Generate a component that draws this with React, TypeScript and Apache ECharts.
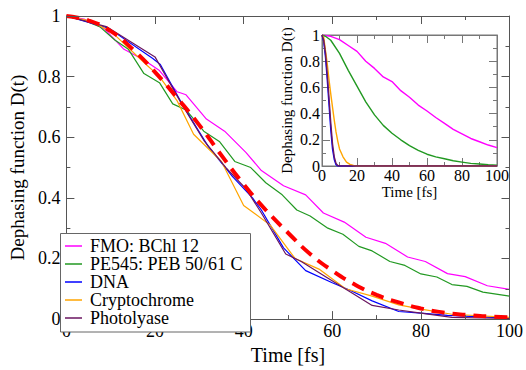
import React, { useEffect, useRef } from "react";
import * as echarts from "echarts";

// ---------- Main panel data ----------
const FMO_T = [0, 4, 8.7, 13, 17.5, 21, 25, 27, 31.6, 35.7, 40.5, 44, 49, 54, 58, 62.7, 67.6, 72, 77, 81, 86, 90, 95, 100];
const FMO_D = [1, 0.99, 0.956, 0.89, 0.855, 0.82, 0.75, 0.74, 0.66, 0.62, 0.55, 0.49, 0.44, 0.41, 0.35, 0.32, 0.27, 0.25, 0.205, 0.19, 0.15, 0.14, 0.11, 0.098];

const PE_T = [0, 4, 7.5, 11, 14, 17.5, 21, 24, 27, 31, 34.6, 38, 41.6, 45, 48.7, 52, 55, 59, 62.4, 66, 69, 73, 76.4, 80, 83.6, 87, 90.4, 94, 100];
const PE_D = [1, 0.985, 0.965, 0.92, 0.89, 0.81, 0.78, 0.71, 0.69, 0.62, 0.585, 0.52, 0.5, 0.45, 0.41, 0.36, 0.34, 0.3, 0.28, 0.24, 0.225, 0.19, 0.177, 0.149, 0.139, 0.114, 0.108, 0.089, 0.076];

const DNA_T = [0, 9.5, 19.5, 21.2, 26.5, 32, 37.5, 42, 44, 49, 54, 60, 64, 69, 75, 80, 86, 100];
const DNA_D = [1, 0.96, 0.86, 0.84, 0.7, 0.57, 0.47, 0.4, 0.36, 0.235, 0.16, 0.12, 0.095, 0.06, 0.025, 0.02, 0.012, 0.003];

const CRY_T = [0, 5, 10, 18, 21, 25, 28.7, 35, 40, 46, 51.6, 57, 63, 69, 75, 80.4, 87, 100];
const CRY_D = [1, 0.985, 0.95, 0.84, 0.8, 0.72, 0.61, 0.52, 0.375, 0.31, 0.2, 0.165, 0.1, 0.076, 0.047, 0.032, 0.016, 0.006];

const PHO_T = [0, 9, 20, 26, 31, 36, 40.5, 44, 49.5, 53, 58.5, 64, 69, 75, 80, 87, 100];
const PHO_D = [1, 0.965, 0.865, 0.71, 0.59, 0.5, 0.43, 0.35, 0.215, 0.19, 0.14, 0.09, 0.045, 0.03, 0.02, 0.006, 0.002];

const FIT_T = [0, 5, 10, 15, 20, 25, 30, 35, 40, 45, 50, 55, 60, 65, 70, 75, 80, 85, 90, 95, 100];
const FIT_D = [1, 0.985, 0.95, 0.89, 0.815, 0.73, 0.64, 0.54, 0.445, 0.36, 0.285, 0.215, 0.16, 0.115, 0.08, 0.055, 0.035, 0.022, 0.014, 0.009, 0.006];

// ---------- Inset data ----------
const IN_FMO_T = [0, 5, 10, 15, 20, 25, 30, 35, 40, 45, 50, 55, 60, 65, 70, 75, 80, 85, 90, 95, 100];
const IN_FMO_D = [1, 0.99, 0.965, 0.92, 0.875, 0.8, 0.745, 0.68, 0.645, 0.575, 0.525, 0.465, 0.42, 0.37, 0.325, 0.28, 0.245, 0.21, 0.185, 0.16, 0.14];

const IN_PE_T = [0, 2, 5, 10, 15, 20, 25, 30, 35, 40, 45, 50, 55, 60, 65, 70, 75, 80, 85, 90, 95, 100];
const IN_PE_D = [1, 0.99, 0.96, 0.86, 0.73, 0.61, 0.49, 0.39, 0.31, 0.25, 0.2, 0.155, 0.12, 0.09, 0.07, 0.055, 0.04, 0.03, 0.02, 0.015, 0.01, 0.007];

const IN_DNA_T = [0, 1, 2, 3, 4, 5, 6, 7, 8, 9, 100];
const IN_DNA_D = [1, 0.95, 0.83, 0.66, 0.47, 0.28, 0.13, 0.05, 0.01, 0, 0];

const IN_CRY_T = [0, 1, 2, 3, 4, 5, 6, 7, 8, 9, 10, 12, 14, 16, 18, 20, 100];
const IN_CRY_D = [1, 0.98, 0.88, 0.78, 0.66, 0.55, 0.45, 0.35, 0.26, 0.19, 0.13, 0.07, 0.03, 0.012, 0.004, 0, 0];

const IN_PHO_T = [0, 1, 2, 3, 4, 5, 6, 7, 8, 9, 10, 100];
const IN_PHO_D = [1, 0.96, 0.86, 0.7, 0.52, 0.33, 0.17, 0.07, 0.02, 0.005, 0, 0];

const NAMES = ["FMO: BChl 12", "PE545: PEB 50/61 C", "DNA", "Cryptochrome", "Photolyase"];
const COLORS = ["#ff00ff", "#229922", "#0000ff", "#ffa500", "#6a1560"];
const X_TICKS = [0, 20, 40, 60, 80, 100];

const zip = (t: number[], d: number[]) => t.map((v, i) => [v, d[i]]);

const FONT = "'Liberation Serif', 'Times New Roman', serif";

export default function App() {
  const ref = useRef<HTMLDivElement>(null);
  useEffect(() => {
    if (!ref.current) return;
    const chart = echarts.init(ref.current, null, { renderer: "svg" });

    const frame = "#555";
    const inFrame = "#777";

    const lbl = (fs: number, margin: number, show = true) => ({
      show,
      fontFamily: FONT,
      fontSize: fs,
      fontWeight: "normal",
      color: "#000",
      margin,
    });

    const mkX = (grid: number, pos: "bottom" | "top", labels: boolean, fs: number, margin: number, color: string, z: number, extra: any = {}) => ({
      type: "value",
      gridIndex: grid,
      position: pos,
      min: X_TICKS[0],
      max: X_TICKS[X_TICKS.length - 1],
      interval: 20,
      z,
      axisLine: { show: true, onZero: false, lineStyle: { color, width: 1 } },
      axisTick: { show: true, inside: true, length: 8, lineStyle: { color } },
      minorTick: { show: true, splitNumber: 2, length: 4, lineStyle: { color } },
      splitLine: { show: false },
      axisLabel: lbl(fs, margin, labels),
      ...extra,
    });
    const mkY = (grid: number, pos: "left" | "right", labels: boolean, fs: number, margin: number, color: string, z: number, extra: any = {}) => ({
      type: "value",
      gridIndex: grid,
      position: pos,
      min: 0,
      max: 1,
      interval: 0.2,
      z,
      axisLine: { show: true, onZero: false, lineStyle: { color, width: 1 } },
      axisTick: { show: true, inside: true, length: 8, lineStyle: { color } },
      minorTick: { show: true, splitNumber: 2, length: 4, lineStyle: { color } },
      splitLine: { show: false },
      axisLabel: lbl(fs, margin, labels),
      ...extra,
    });

    const mainData = [zip(FMO_T, FMO_D), zip(PE_T, PE_D), zip(DNA_T, DNA_D), zip(CRY_T, CRY_D), zip(PHO_T, PHO_D)];
    const inData = [zip(IN_FMO_T, IN_FMO_D), zip(IN_PE_T, IN_PE_D), zip(IN_DNA_T, IN_DNA_D), zip(IN_CRY_T, IN_CRY_D), zip(IN_PHO_T, IN_PHO_D)];

    const series: any[] = [];
    NAMES.forEach((n, i) => {
      series.push({
        name: n,
        type: "line",
        xAxisIndex: 0,
        yAxisIndex: 0,
        data: mainData[i],
        showSymbol: false,
        symbol: "none",
        lineStyle: { color: COLORS[i], width: 1.2 },
        itemStyle: { color: COLORS[i] },
        z: 2,
      });
    });
    series.push({
      name: "fit",
      type: "line",
      xAxisIndex: 0,
      yAxisIndex: 0,
      data: zip(FIT_T, FIT_D),
      showSymbol: false,
      symbol: "none",
      smooth: true,
      lineStyle: { color: "#ff0000", width: 4, type: [13, 8], cap: "butt" },
      itemStyle: { color: "#ff0000" },
      z: 3,
    });
    NAMES.forEach((n, i) => {
      series.push({
        name: n + " (inset)",
        type: "line",
        xAxisIndex: 2,
        yAxisIndex: 2,
        data: inData[i],
        showSymbol: false,
        symbol: "none",
        lineStyle: { color: COLORS[i], width: 1.4 },
        itemStyle: { color: COLORS[i] },
        z: 12,
      });
    });

    const nameStyle = (fs: number) => ({ fontFamily: FONT, fontSize: fs, fontWeight: "normal", color: "#000" });

    chart.setOption({
      animation: false,
      backgroundColor: "#fff",
      textStyle: { fontFamily: FONT, fontWeight: "normal" },
      grid: [
        { left: 61, right: 15, top: 16, bottom: 38, show: false },
        { left: 322, right: 29, top: 35, bottom: 204, show: true, backgroundColor: "#fff", borderColor: inFrame, borderWidth: 1, z: 10 },
      ],
      xAxis: [
        mkX(0, "bottom", true, 18, 3, frame, 5, {
          name: "Time [fs]",
          nameLocation: "middle",
          nameGap: 19,
          nameTextStyle: nameStyle(20),
        }),
        mkX(0, "top", false, 18, 3, frame, 5),
        mkX(1, "bottom", true, 16, 1, inFrame, 11, {
          name: "Time [fs]",
          nameLocation: "middle",
          nameGap: 18,
          nameTextStyle: nameStyle(15),
        }),
        mkX(1, "top", false, 16, 1, inFrame, 11),
      ],
      yAxis: [
        mkY(0, "left", true, 18, 6, frame, 5, {
          name: "Dephasing function D(t)",
          nameLocation: "middle",
          nameGap: 33,
          nameTextStyle: nameStyle(19),
        }),
        mkY(0, "right", false, 18, 6, frame, 5),
        mkY(1, "left", true, 16, 2, inFrame, 11, {
          name: "Dephasing function D(t)",
          nameLocation: "middle",
          nameGap: 28,
          nameTextStyle: nameStyle(15),
        }),
        mkY(1, "right", false, 16, 2, inFrame, 11),
      ],
      graphic: [
        {
          type: "rect",
          z: 6,
          shape: { x: 60.5, y: 233.5, width: 190, height: 98.5 },
          style: { fill: "#fff", stroke: "#666", lineWidth: 1 },
        },
      ],
      legend: {
        data: NAMES,
        orient: "vertical",
        left: 61,
        top: 235,
        padding: [2, 4, 2, 4],
        itemGap: 0,
        itemWidth: 17,
        itemHeight: 1.5,
        icon: "rect",
        z: 8,
        selectedMode: false,
        textStyle: { fontFamily: FONT, fontSize: 18, color: "#000", padding: [0, 0, 0, 3] },
      },
      series,
    });

    return () => chart.dispose();
  }, []);

  return <div ref={ref} style={{ width: 526, height: 370, position: "absolute", left: 0, top: 0 }} />;
}
